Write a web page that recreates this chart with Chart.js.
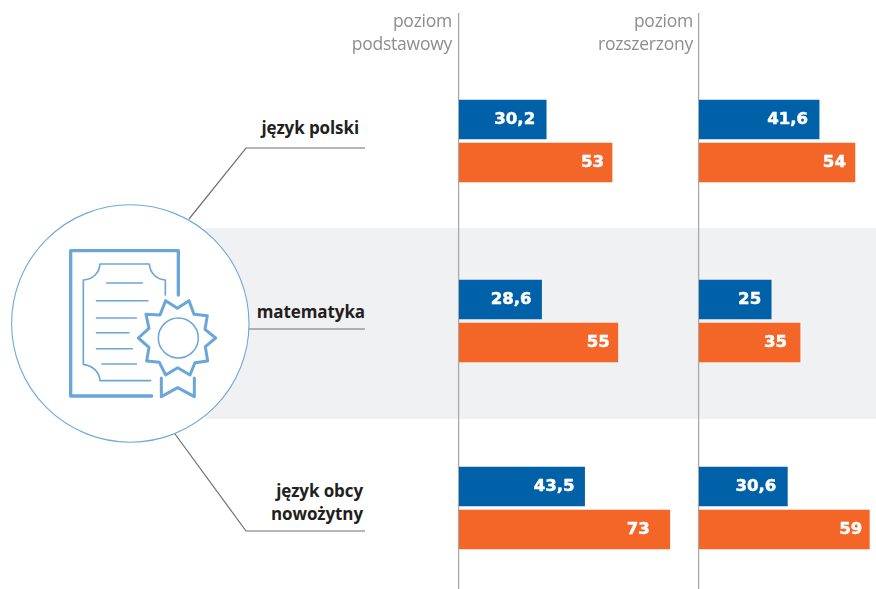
<!DOCTYPE html>
<html lang="pl"><head><meta charset="utf-8">
<style>
html,body{margin:0;padding:0;background:#fff;width:876px;height:589px;overflow:hidden}
#band{position:absolute;left:205px;top:228px;width:671px;height:191px;background:#f0f1f3}
svg{position:absolute;left:0;top:0}
.cv{position:absolute;top:0;height:601px}
.t{position:absolute;white-space:nowrap;text-align:right;line-height:24px}
.h{font:400 17.5px "Open Sans",sans-serif;color:#8b8d8f;letter-spacing:-.25px}
.c{font:700 17px "Open Sans",sans-serif;color:#231f20;letter-spacing:-.1px}
</style>
<script src="https://cdn.jsdelivr.net/npm/chart.js@4"></script>
</head><body>
<div id="band"></div>
<svg width="876" height="589" viewBox="0 0 876 589" fill="none">
  <g stroke="#6f7072" stroke-width="1.2">
    <polyline points="189,219 246,148 365,148"/>
    <polyline points="248,329 365,329"/>
    <polyline points="175,434 246,531 365,531"/>
  </g>
  <circle cx="130.3" cy="323.5" r="118.7" fill="#fff" stroke="#6fa9dc" stroke-width="1.1"/>
  <g transform="translate(0,200) scale(.33333)" stroke="#6ba6da" stroke-linejoin="round" stroke-linecap="round">
    <path d="M535 285V152H212V588H455" stroke-width="10"/>
    <path d="M496 285V240C470 238 450 220 448 192H300C298 220 278 238 250 240V493C278 497 298 515 300 542H452" stroke-width="5"/>
    <path d="M320 249H427M289 302H444M289 354H409M289 398H387M289 446H397M306 492H409" stroke-width="4.5"/>
    <path d="M438 343L480 345L497 302L532 325L567 302L582 343L622 347L615 388L647 414L616 440L623 483L585 488L570 525L533 503L497 525L478 487L440 483L447 442L415 414L447 385Z" stroke-width="9"/>
    <circle cx="535" cy="414" r="60" stroke-width="4.5"/>
    <path d="M484 534V590L533 563L583 590V534" stroke-width="9"/>
  </g>
</svg>
<div class="cv" style="left:450px;width:240px"><canvas id="basic"></canvas></div>
<div class="cv" style="left:690px;width:186px"><canvas id="extended"></canvas></div>
<div id="text"></div>
<script>
const categories = ["język polski", "matematyka", "język obcy nowożytny"];
const basicBlue = [30.2, 28.6, 43.5];
const basicOrange = [53, 55, 73];
const extendedBlue = [41.6, 25, 30.6];
const extendedOrange = [54, 35, 59];
const basicAxisMax = 80;
const extendedAxisMax = 61.3;
const blue = "#0060a8";
const orange = "#f46528";

// Rows in the reference are not evenly spaced; nudge per category row (px).
const rowNudge = [0, -4, -1];
// Distance of each label's right edge from the bar end (px), per bar.
const basicInsets = [[11, 10, 10], [8, 8, 20]];
const extendedInsets = [[11, 10, 11], [9, 13, 7]];

class RowScale extends Chart.CategoryScale {
  getPixelForValue(value, index) {
    return super.getPixelForValue(value, index) + (rowNudge[Math.round(value)] || 0);
  }
}
RowScale.id = "rowScale";
RowScale.defaults = Chart.CategoryScale.defaults;
Chart.register(RowScale);

const fmt = v => String(v).replace(".", ",");
const labelPlugin = insets => ({
  id: "barLabels",
  afterDatasetsDraw(chart) {
    const c = chart.ctx;
    c.save();
    c.font = "700 16.6px 'DejaVu Sans'";
    c.fillStyle = "#fff";
    c.strokeStyle = "#fff";
    c.lineWidth = 0.5;
    c.lineJoin = "round";
    c.textAlign = "right";
    c.textBaseline = "middle";
    chart.data.datasets.forEach((ds, d) => {
      chart.getDatasetMeta(d).data.forEach((bar, i) => {
        const s = fmt(ds.data[i]);
        c.strokeText(s, bar.x - insets[d][i], bar.y + 0.5);
        c.fillText(s, bar.x - insets[d][i], bar.y + 0.5);
      });
    });
    c.restore();
  }
});
const axisLine = {
  id: "axisLine",
  beforeDatasetsDraw(chart) {
    const c = chart.ctx, x = chart.chartArea.left - 0.4;
    c.save();
    c.strokeStyle = "#a9a9a9";
    c.lineWidth = 1.3;
    c.beginPath(); c.moveTo(x, 13); c.lineTo(x, 589); c.stroke();
    c.restore();
  }
};

function build(id, a, b, max, insets) {
  new Chart(document.getElementById(id), {
    type: "bar",
    data: {
      labels: categories,
      datasets: [
        { data: a, backgroundColor: blue },
        { data: b, backgroundColor: orange }
      ]
    },
    options: {
      indexAxis: "y",
      responsive: true,
      maintainAspectRatio: false,
      animation: false,
      events: [],
      layout: { padding: { left: 9, top: 49, right: 0, bottom: 0 } },
      barThickness: 43,
      maxBarThickness: 39,
      plugins: { legend: { display: false }, tooltip: { enabled: false } },
      scales: {
        x: { type: "linear", min: 0, max: max, display: false },
        y: { type: "rowScale", display: false, offset: true }
      }
    },
    plugins: [axisLine, labelPlugin(insets)]
  });
}
build("basic", basicBlue, basicOrange, basicAxisMax, basicInsets);
build("extended", extendedBlue, extendedOrange, extendedAxisMax, extendedInsets);

const texts = [
  ["h", "poziom", 452, 8], ["h", "podstawowy", 452, 31],
  ["h", "poziom", 693, 8], ["h", "rozszerzony", 693, 31],
  ["c", "język polski", 359, 116],
  ["c", "matematyka", 365, 300],
  ["c", "język obcy", 363, 479], ["c", "nowożytny", 363, 502]
];
const box = document.getElementById("text");
texts.forEach(([cls, s, right, top]) => {
  const d = document.createElement("div");
  d.className = "t " + cls;
  d.textContent = s;
  d.style.right = (876 - right) + "px";
  d.style.top = top + "px";
  box.appendChild(d);
});
</script>
</body></html>
